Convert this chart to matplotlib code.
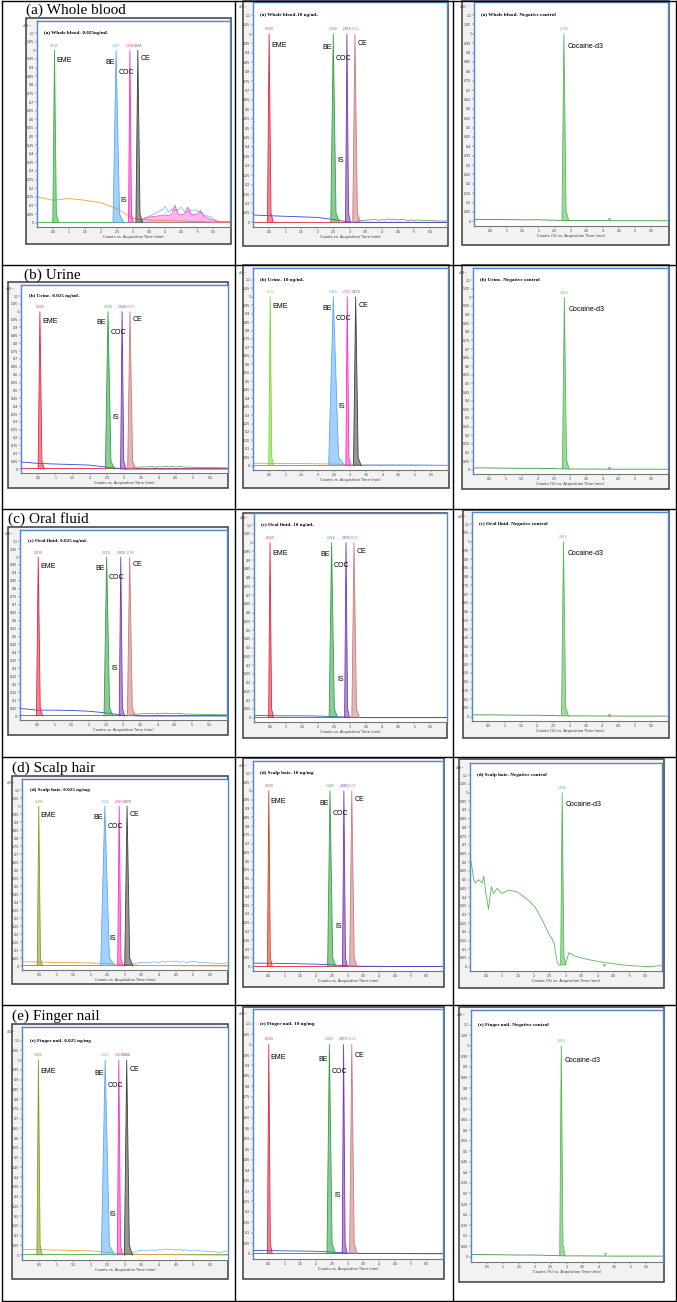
#!/usr/bin/env python3
"""MRM chromatograms of cocaine and metabolites in five matrices
(low spike, high spike, negative control), laid out as a 5x3 table."""
import numpy as np
import matplotlib
matplotlib.use("Agg")
import matplotlib.pyplot as plt
from matplotlib.patches import Rectangle
from matplotlib.lines import Line2D

W, H = 677, 1302

# ---- data ----
ROW_LABELS = ["(a) Whole blood", "(b) Urine", "(c) Oral fluid", "(d) Scalp hair", "(e) Finger nail"]
LOW_TITLES = ["(a) Whole blood- 0.025ng/mL", "(b) Urine- 0.025 ng/mL", "(c) Oral fluid- 0.025 ng/mL",
              "(d) Scalp hair- 0.025 ng/mg", "(e) Finger nail- 0.025 ng/mg"]
HIGH_TITLES = ["(a) Whole blood-10 ng/mL", "(b) Urine- 10 ng/mL", "(c) Oral fluid- 10 ng/mL",
               "(d) Scalp hair- 10 ng/mg", "(e) Finger nail- 10 ng/mg"]
NEG_TITLES = ["(a) Whole blood- Negative control", "(b) Urine- Negative control",
              "(c) Oral fluid- Negative control", "(d) Scalp hair- Negative control",
              "(e) Finger nail- Negative control"]
ANALYTES = ["EME", "BE", "COC", "CE"]

# retention times (min) of EME, BE, COC, CE
RT_LOW = [[0.545, 2.467, 2.898, 3.145],
          [0.550, 2.530, 2.940, 3.170],
          [0.530, 2.520, 2.930, 3.190],
          [0.490, 2.420, 2.840, 3.070],
          [0.480, 2.430, 2.830, 3.060]]
RT_HIGH = [[0.500, 2.490, 2.915, 3.163],
           [0.530, 2.480, 2.910, 3.170],
           [0.500, 2.420, 2.870, 3.120],
           [0.500, 2.440, 2.880, 3.130],
           [0.500, 2.420, 2.870, 3.130]]
RT_NEG = [2.790, 2.820, 2.810, 2.890, 2.830]

# base width of each peak (min)
WIDTH_LOW = [[0.13, 0.24, 0.11, 0.15],
             [0.13, 0.19, 0.11, 0.17],
             [0.13, 0.19, 0.11, 0.17],
             [0.11, 0.30, 0.11, 0.17],
             [0.11, 0.28, 0.11, 0.17]]
WIDTH_HIGH = [[0.13, 0.19, 0.11, 0.17],
              [0.11, 0.36, 0.11, 0.17],
              [0.11, 0.19, 0.11, 0.17],
              [0.11, 0.19, 0.11, 0.17],
              [0.11, 0.19, 0.11, 0.17]]
WIDTH_NEG = [0.15, 0.15, 0.15, 0.12, 0.12]

IS_Y_LOW = [0.13, 0.33, 0.30, 0.17, 0.21]
IS_Y_HIGH = [0.33, 0.35, 0.22, 0.23, 0.28]

# slow baseline drift of the low/high traces
DRIFT_T = [0.0, 0.5, 1.0, 1.5, 2.0, 2.5, 3.0, 3.5, 4.5, 6.0]
DRIFT_LOW = [[0.150, 0.130, 0.140, 0.130, 0.115, 0.080, 0.025, 0.015, 0.010, 0.000],
             [0.045, 0.036, 0.032, 0.029, 0.025, 0.012, 0.000, 0.000, 0.000, 0.000],
             [0.048, 0.037, 0.037, 0.035, 0.030, 0.020, 0.004, 0.000, 0.000, 0.000],
             [0.027, 0.025, 0.022, 0.021, 0.019, 0.015, 0.008, 0.004, 0.002, 0.000],
             [0.030, 0.028, 0.026, 0.024, 0.022, 0.014, 0.006, 0.004, 0.002, 0.000]]
DRIFT_HIGH = [[0.039, 0.035, 0.032, 0.029, 0.026, 0.015, 0.000, 0.000, 0.000, 0.000],
              [0.015, 0.014, 0.013, 0.013, 0.012, 0.010, 0.006, 0.004, 0.003, 0.002],
              [0.012, 0.011, 0.010, 0.010, 0.009, 0.006, 0.002, 0.000, 0.000, 0.000],
              [0.020, 0.019, 0.018, 0.016, 0.014, 0.010, 0.004, 0.002, 0.001, 0.000],
              [0.016, 0.015, 0.014, 0.013, 0.012, 0.008, 0.003, 0.002, 0.001, 0.000]]
DRIFT_NEG = [0.010, 0.010, 0.009, 0.008, 0.008, 0.006, 0.004, 0.004, 0.003, 0.003]

# late-eluting matrix noise
NOISE_T = [3.2, 3.4, 3.6, 3.8, 3.9, 4.0, 4.1, 4.2, 4.3, 4.4, 4.5,
           4.6, 4.7, 4.8, 4.9, 5.0, 5.1, 5.2, 5.4, 5.6, 5.8, 6.0]
NOISE_LOW = [[0.010, 0.030, 0.045, 0.065, 0.075, 0.095, 0.060, 0.080, 0.070, 0.075, 0.090,
              0.065, 0.060, 0.070, 0.075, 0.070, 0.060, 0.045, 0.035, 0.010, 0.006, 0.006],
             [0.005, 0.012, 0.014, 0.016, 0.012, 0.015, 0.013, 0.018, 0.014, 0.016, 0.013,
              0.017, 0.014, 0.012, 0.013, 0.011, 0.012, 0.011, 0.010, 0.009, 0.008, 0.008],
             [0.005, 0.012, 0.015, 0.017, 0.013, 0.016, 0.014, 0.019, 0.015, 0.016, 0.014,
              0.018, 0.014, 0.012, 0.013, 0.012, 0.012, 0.011, 0.010, 0.009, 0.008, 0.008],
             [0.010, 0.020, 0.022, 0.024, 0.025, 0.022, 0.028, 0.024, 0.030, 0.026, 0.032,
              0.024, 0.028, 0.022, 0.026, 0.030, 0.025, 0.022, 0.020, 0.018, 0.015, 0.020],
             [0.012, 0.022, 0.024, 0.026, 0.024, 0.028, 0.026, 0.032, 0.028, 0.030, 0.025,
              0.030, 0.024, 0.028, 0.022, 0.026, 0.024, 0.022, 0.020, 0.018, 0.014, 0.022]]
NOISE_HIGH = [[0.005, 0.010, 0.012, 0.015, 0.010, 0.014, 0.012, 0.018, 0.013, 0.015, 0.012,
               0.016, 0.013, 0.010, 0.012, 0.010, 0.012, 0.011, 0.009, 0.008, 0.007, 0.007],
              [0.004, 0.005, 0.006, 0.005, 0.006, 0.005, 0.006, 0.005, 0.006, 0.005, 0.006,
               0.005, 0.006, 0.005, 0.006, 0.005, 0.006, 0.005, 0.005, 0.004, 0.004, 0.004],
              None, None, None]
BLOOD_LOW_MAGENTA = [0.010, 0.030, 0.035, 0.040, 0.040, 0.045, 0.040, 0.050, 0.100, 0.050, 0.045,
                     0.050, 0.090, 0.050, 0.045, 0.050, 0.070, 0.040, 0.020, 0.010, 0.005, 0.005]

# scalp hair negative control has a large matrix background
SCALP_NEG_T = [0.00, 0.12, 0.17, 0.27, 0.38, 0.43, 0.50, 0.58, 0.67, 0.74, 0.85, 1.00, 1.21,
               1.47, 1.63, 1.84, 2.05, 2.26, 2.47, 2.63, 2.73, 2.78, 2.99, 3.10, 3.30, 3.72,
               4.25, 4.77, 5.19, 5.60, 6.00]
SCALP_NEG_V = [0.64, 0.50, 0.48, 0.50, 0.48, 0.52, 0.42, 0.33, 0.46, 0.42, 0.45, 0.42, 0.44,
               0.43, 0.41, 0.38, 0.34, 0.27, 0.19, 0.14, 0.03, 0.01, 0.01, 0.08, 0.06, 0.04,
               0.023, 0.01, 0.004, 0.0, 0.006]

# ---- styles ----
SCHEME_A = dict(peaks=["#3cb043", "#5aaaf5", "#ff30c8", "#404040"], drift="#f5a030", noise="#6ab4f5",
                floor="#3cb043")
SCHEME_B = dict(peaks=["#e3263f", "#32a040", "#7b35b5", "#cd7a78"], drift="#3348e0", noise="#40a040",
                floor="#e3263f")
LOW_SCHEME = [SCHEME_A, SCHEME_B, SCHEME_B, SCHEME_A, SCHEME_A]
HIGH_SCHEME = [SCHEME_B, SCHEME_A, SCHEME_B, SCHEME_B, SCHEME_B]
EME_OVERRIDE = {(0, 1): "#e3263f", (1, 1): "#77d932", (3, 0): "#7f9f1f", (4, 0): "#7f9f1f",
                (3, 1): "#d2401a"}
NEG_COLOR = "#55b955"

SERIF = ["Liberation Serif", "DejaVu Serif"]
NARROW = ["Liberation Sans Narrow", "Liberation Sans", "DejaVu Sans"]

# table grid (pixels)
COL_X = [2, 235, 453, 676]
ROW_Y = [1, 265, 509, 757, 1005, 1301]
LABEL_XY = [(26, 10), (24, 275), (8, 519), (12, 768), (12, 1016)]

# (frame box, axes box) in pixels: x0, y0, x1, y1
BOXES = [
    [((26, 18, 231, 244), (37, 21, 230, 227)),
     ((243, 1, 448, 246), (253, 2, 447, 227)),
     ((462, 1, 669, 245), (474, 2, 668, 226))],
    [((8, 282, 228, 488), (21, 285, 228, 473)),
     ((243, 265, 449, 488), (253, 268, 448, 470)),
     ((462, 265, 669, 489), (473, 268, 668, 474))],
    [((8, 527, 228, 735), (20, 530, 227, 720)),
     ((243, 513, 447, 738), (254, 513, 447, 722)),
     ((463, 510, 669, 738), (472, 512, 668, 721))],
    [((12, 776, 228, 984), (22, 779, 228, 970)),
     ((243, 758, 444, 987), (253, 761, 443, 971)),
     ((459, 759, 664, 988), (470, 763, 662, 971))],
    [((12, 1024, 228, 1279), (22, 1027, 228, 1260)),
     ((243, 1007, 444, 1279), (253, 1009, 443, 1259)),
     ((459, 1007, 664, 1282), (471, 1010, 663, 1262))],
]


def fig_rect(box):
    x0, y0, x1, y1 = box
    return [x0 / W, 1 - y1 / H, (x1 - x0) / W, (y1 - y0) / H]


def draw_peak(ax, rt, width, color, base=0.0):
    xs = [rt - 0.4 * width, rt, rt + 0.45 * width, rt + width]
    ys = [base, 1.0, 0.05 + base, base]
    ax.fill(xs, ys, color=color, alpha=0.55, lw=0, zorder=3)
    ax.plot(xs, ys, color=color, lw=0.6, zorder=4)


def setup_axes(fig, frame, box, title, xlabel):
    x0, y0, x1, y1 = frame
    fig.add_artist(Rectangle((x0 / W, 1 - y1 / H), (x1 - x0) / W, (y1 - y0) / H,
                             transform=fig.transFigure, facecolor="#f2f2f2",
                             edgecolor="#3c3c3c", lw=1.1, zorder=0))
    ax = fig.add_axes(fig_rect(box))
    ax.set_zorder(1)
    ax.set_facecolor("white")
    ax.set_xlim(0, 6.02)
    ax.set_ylim(-0.025, 1.17)
    yt = np.arange(0, 1.101, 0.05)
    ax.set_yticks(yt)
    ax.set_yticklabels([f"{v:g}" for v in np.round(yt, 2)])
    ax.set_xticks(np.arange(0.5, 5.51, 0.5))
    ax.set_xticklabels([f"{v:g}" for v in np.arange(0.5, 5.51, 0.5)])
    ax.tick_params(labelsize=2.3, length=1.2, width=0.3, pad=0.8, colors="#333333")
    for side in ["top", "right", "left"]:
        ax.spines[side].set_color("#4f86d8")
        ax.spines[side].set_linewidth(1.0)
    ax.spines["bottom"].set_color("#777777")
    ax.spines["bottom"].set_linewidth(0.8)
    ax.set_xlabel(xlabel, fontsize=2.6, labelpad=1, color="#333333")
    ax.text(-0.055, 0.995, r"x10$^2$", transform=ax.transAxes, fontsize=2.3, ha="center", va="top",
            color="#333333")
    ax.text(0.22, 1.10, title, fontsize=3.7, fontweight="bold", family=SERIF, va="center", zorder=6)
    return ax


def draw_spiked(fig, r, c, rts, widths, is_y, drift, noise, scheme, title):
    frame, box = BOXES[r][c]
    ax = setup_axes(fig, frame, box, title, "Counts vs. Acquisition Time (min)")
    colors = list(scheme["peaks"])
    if (r, c) in EME_OVERRIDE:
        colors[0] = EME_OVERRIDE[(r, c)]
    ax.plot([0, 6.02], [0.004, 0.004], color=scheme["floor"], lw=0.6, zorder=2)
    ax.plot(DRIFT_T, drift, color=scheme["drift"], lw=0.6, zorder=2)
    if noise is not None:
        ax.plot(NOISE_T, noise, color=scheme["noise"], lw=0.5, zorder=2)
    if r == 0 and c == 0:
        ax.fill_between(NOISE_T, 0.0, BLOOD_LOW_MAGENTA, color="#ff30c8", alpha=0.35, lw=0, zorder=2)
        ax.plot(NOISE_T, BLOOD_LOW_MAGENTA, color="#ff30c8", lw=0.5, zorder=2)
    for rt, w, col in zip(rts, widths, colors):
        draw_peak(ax, rt, w, col)
        ax.text(rt, 1.015, f"{rt:.3f}", color=col, fontsize=2.2, ha="center", va="bottom", zorder=6)
    eme, be, coc, ce = rts
    kw = dict(fontsize=5, family=NARROW, va="center", zorder=6)
    ax.text(eme + 0.06, 0.94, "EME", ha="left", **kw)
    ax.text(be - 0.05, 0.93, "BE", ha="right", **kw)
    ax.text(be + 0.07, 0.87, "COC", ha="left", **kw)
    ax.text(ce + 0.08, 0.95, "CE", ha="left", **kw)
    ax.text(coc - 0.18, is_y, "IS", ha="center", **kw)


def draw_negative(fig, r, rt, width, title):
    frame, box = BOXES[r][2]
    ax = setup_axes(fig, frame, box, title, "Counts (%) vs. Acquisition Time (min)")
    if r == 3:
        ax.plot(SCALP_NEG_T, SCALP_NEG_V, color=NEG_COLOR, lw=0.6, zorder=2)
        base = 0.01
    else:
        ax.plot(DRIFT_T, DRIFT_NEG, color="#3a9a3a", lw=0.6, zorder=2)
        base = 0.004
    draw_peak(ax, rt, width, NEG_COLOR, base=base)
    ax.text(rt, 1.015, f"{rt:.3f}", color=NEG_COLOR, fontsize=2.2, ha="center", va="bottom", zorder=6)
    ax.text(rt + 0.12, 0.93, "Cocaine-d3", fontsize=5, family=NARROW, ha="left", va="center", zorder=6)
    ax.plot([4.2], [0.012], marker="v", ms=1.6, mfc="none", mec="#555555", mew=0.3, zorder=5)


def main():
    fig = plt.figure(figsize=(W / 100, H / 100), dpi=100)
    fig.patch.set_facecolor("white")

    for x in COL_X:
        fig.add_artist(Line2D([x / W, x / W], [1 - ROW_Y[0] / H, 1 - ROW_Y[-1] / H],
                              transform=fig.transFigure, color="black", lw=1.0, zorder=5))
    for y in ROW_Y:
        fig.add_artist(Line2D([COL_X[0] / W, COL_X[-1] / W], [1 - y / H, 1 - y / H],
                              transform=fig.transFigure, color="black", lw=1.0, zorder=5))

    for r in range(5):
        lx, ly = LABEL_XY[r]
        fig.text(lx / W, 1 - ly / H, ROW_LABELS[r], fontsize=11, family=SERIF, ha="left", va="center")
        draw_spiked(fig, r, 0, RT_LOW[r], WIDTH_LOW[r], IS_Y_LOW[r], DRIFT_LOW[r], NOISE_LOW[r],
                    LOW_SCHEME[r], LOW_TITLES[r])
        draw_spiked(fig, r, 1, RT_HIGH[r], WIDTH_HIGH[r], IS_Y_HIGH[r], DRIFT_HIGH[r], NOISE_HIGH[r],
                    HIGH_SCHEME[r], HIGH_TITLES[r])
        draw_negative(fig, r, RT_NEG[r], WIDTH_NEG[r], NEG_TITLES[r])

    fig.savefig("out.png", dpi=100)
    print("wrote out.png")


if __name__ == "__main__":
    main()
